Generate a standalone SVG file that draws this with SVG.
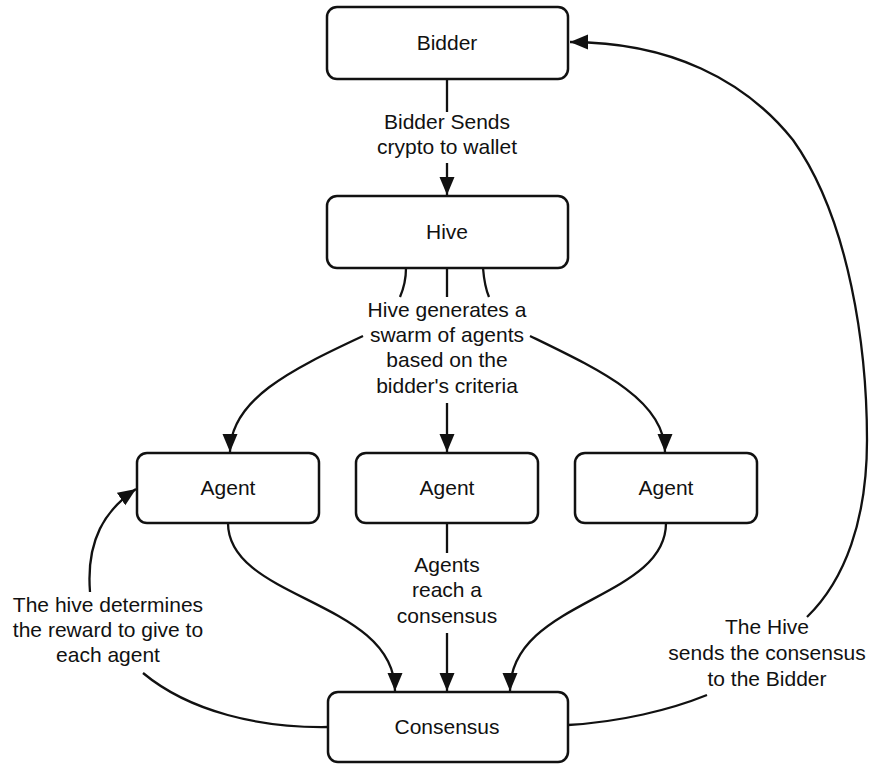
<svg xmlns="http://www.w3.org/2000/svg" width="872" height="765" viewBox="0 0 872 765">
<style>
.box{fill:#fff;stroke:#111;stroke-width:2.5}
.t{font-family:"Liberation Sans",Arial,sans-serif;font-size:21px;fill:#111;text-anchor:middle}
.c{fill:none;stroke:#111;stroke-width:2.3}
</style>
<defs>
<marker id="arr" markerWidth="20" markerHeight="16" refX="18" refY="7.5" orient="auto" markerUnits="userSpaceOnUse">
<path d="M0,0 L18,7.5 L0,15 z" fill="#111"/>
</marker>
</defs>
<rect width="872" height="765" fill="#fff"/>
<g id="connectors">
<path class="c" d="M447,79 L447,112"/>
<path class="c" d="M447,163 L447,195" marker-end="url(#arr)"/>
<path class="c" d="M406,268 C406,280 403,290 400,297"/>
<path class="c" d="M447,268 L447,297"/>
<path class="c" d="M483,268 C484,280 486,290 489,297"/>
<path class="c" d="M363,336 C290,370 230,400 230,452" marker-end="url(#arr)"/>
<path class="c" d="M447,403 L447,452" marker-end="url(#arr)"/>
<path class="c" d="M530,336 C600,370 665,400 665,452" marker-end="url(#arr)"/>
<path class="c" d="M228,523 C228,600 395,600 395,691" marker-end="url(#arr)"/>
<path class="c" d="M447,523 L447,553"/>
<path class="c" d="M447,633 L447,691" marker-end="url(#arr)"/>
<path class="c" d="M666,523 C666,600 510,600 510,691" marker-end="url(#arr)"/>
<path class="c" d="M328,727 C260,728 190,712 143,673"/>
<path class="c" d="M90,592 C86,540 105,510 136,489" marker-end="url(#arr)"/>
<path class="c" d="M568,725 C620,722 670,710 707,695"/>
<path class="c" d="M807,617 C845,580 867,520 867,440 C867,350 850,220 793,140 C745,80 670,42 570,42" marker-end="url(#arr)"/>
</g>
<g id="labels">
<text class="t" x="447" y="129">Bidder Sends</text>
<text class="t" x="447" y="154">crypto to wallet</text>
<text class="t" x="447" y="317">Hive generates a</text>
<text class="t" x="447" y="342">swarm of agents</text>
<text class="t" x="447" y="367">based on the</text>
<text class="t" x="447" y="393">bidder's criteria</text>
<text class="t" x="447" y="572">Agents</text>
<text class="t" x="447" y="597">reach a</text>
<text class="t" x="447" y="623">consensus</text>
<text class="t" x="108" y="612">The hive determines</text>
<text class="t" x="108" y="637">the reward to give to</text>
<text class="t" x="108" y="662">each agent</text>
<text class="t" x="767" y="634">The Hive</text>
<text class="t" x="767" y="660">sends the consensus</text>
<text class="t" x="767" y="686">to the Bidder</text>
</g>
<g id="bidder">
<rect class="box" x="327" y="7" width="241" height="72" rx="10"/>
<text class="t" x="447" y="50">Bidder</text>
</g>
<g id="hive">
<rect class="box" x="327" y="196" width="241" height="72" rx="10"/>
<text class="t" x="447" y="239">Hive</text>
</g>
<g id="agent1">
<rect class="box" x="137" y="453" width="182" height="70" rx="10"/>
<text class="t" x="228" y="495">Agent</text>
</g>
<g id="agent2">
<rect class="box" x="356" y="453" width="182" height="70" rx="10"/>
<text class="t" x="447" y="495">Agent</text>
</g>
<g id="agent3">
<rect class="box" x="575" y="453" width="182" height="70" rx="10"/>
<text class="t" x="666" y="495">Agent</text>
</g>
<g id="consensus">
<rect class="box" x="328" y="692" width="240" height="70" rx="10"/>
<text class="t" x="447" y="734">Consensus</text>
</g>
</svg>
